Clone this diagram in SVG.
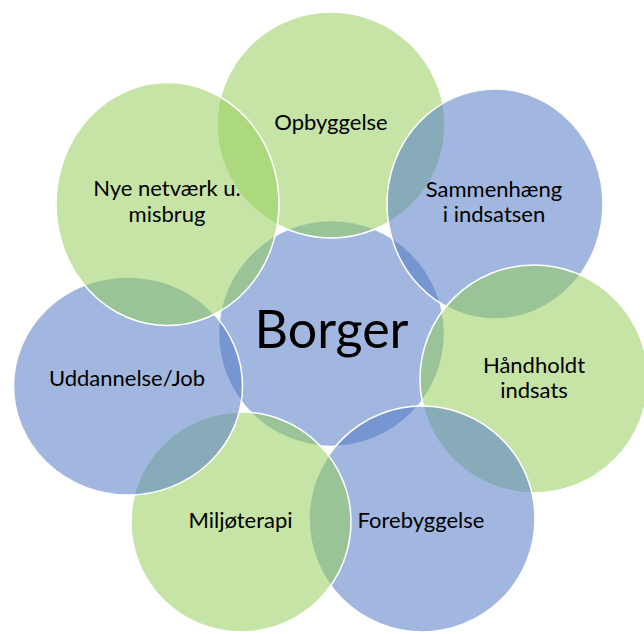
<svg xmlns="http://www.w3.org/2000/svg" width="644" height="634" viewBox="0 0 644 634">
  <style>
    .c { stroke: #FFFFFF; stroke-width: 1.5; }
    .g { fill: rgb(151,206,93); fill-opacity: 0.55; }
    .b { fill: rgb(84,124,199); fill-opacity: 0.55; }
    .t { font-family: Lato, "Liberation Sans", sans-serif; font-size: 22px; fill: #000000; text-anchor: middle; }
    .big { font-family: Lato, "Liberation Sans", sans-serif; font-size: 52px; fill: #000000; text-anchor: middle; }
  </style>
  <rect width="644" height="634" fill="#FFFFFF"/>
  <g id="connectors"></g>
  <g id="borger">
    <circle class="c b" cx="331.5" cy="333.5" r="113"/>
    <text class="big" x="331.5" y="348">Borger</text>
  </g>
  <g id="opbyggelse">
    <ellipse class="c g" cx="331" cy="125" rx="114" ry="113"/>
    <text class="t" x="331" y="130">Opbyggelse</text>
  </g>
  <g id="sammenhaeng">
    <ellipse class="c b" cx="495" cy="204" rx="108" ry="115"/>
    <text class="t" x="494" y="197">Sammenhæng</text>
    <text class="t" x="494" y="222">i indsatsen</text>
  </g>
  <g id="haandholdt">
    <ellipse class="c g" cx="534" cy="379" rx="114" ry="114"/>
    <text class="t" x="534" y="373">Håndholdt</text>
    <text class="t" x="534" y="398">indsats</text>
  </g>
  <g id="forebyggelse">
    <ellipse class="c b" cx="422" cy="519" rx="113" ry="113"/>
    <text class="t" x="421" y="528">Forebyggelse</text>
  </g>
  <g id="miljoeterapi">
    <ellipse class="c g" cx="241" cy="522" rx="110" ry="110"/>
    <text class="t" x="240.5" y="528">Miljøterapi</text>
  </g>
  <g id="uddannelse">
    <ellipse class="c b" cx="128" cy="386" rx="114.5" ry="109"/>
    <text class="t" x="127" y="386">Uddannelse/Job</text>
  </g>
  <g id="nye-netvaerk">
    <ellipse class="c g" cx="167.5" cy="204" rx="111.5" ry="121.5"/>
    <text class="t" x="167" y="196">Nye netværk u.</text>
    <text class="t" x="167" y="222">misbrug</text>
  </g>
</svg>
